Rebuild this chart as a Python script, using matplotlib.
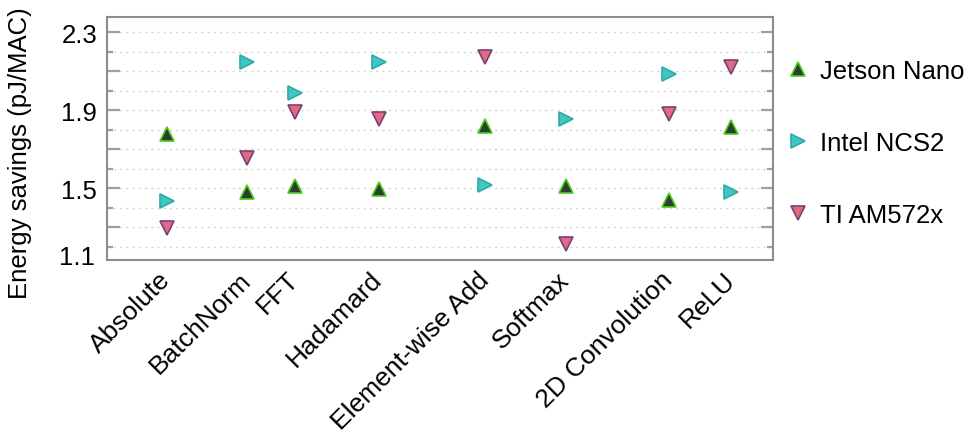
import matplotlib
matplotlib.use("Agg")
import matplotlib.pyplot as plt
from matplotlib.ticker import FixedLocator, FuncFormatter
import matplotlib.transforms as mtransforms

plt.rcParams['font.family'] = ['Liberation Sans', 'DejaVu Sans']

# ---- data ----
operations = ["Absolute", "BatchNorm", "FFT", "Hadamard", "Element-wise Add",
              "Softmax", "2D Convolution", "ReLU"]
op_x = [0.90, 2.10, 2.82, 4.08, 5.68, 6.89, 8.44, 9.38]
jetson_nano = [1.78, 1.48, 1.51, 1.495, 1.82, 1.513, 1.442, 1.813]
intel_ncs2 = [1.436, 2.146, 1.987, 2.146, 1.517, 1.855, 2.086, 1.479]
ti_am572x = [1.298, 1.654, 1.891, 1.855, 2.172, 1.214, 1.881, 2.12]
series_names = ["Jetson Nano", "Intel NCS2", "TI AM572x"]
y_labels_shown = [1.5, 1.9, 2.3]

fig = plt.figure(figsize=(9.73, 4.35), dpi=100)
ax = fig.add_axes([0.110, 0.400, 0.684, 0.559])

styles = [
    dict(marker='^', mfc='#2d3e30', mec='#4ccc1a'),
    dict(marker='>', mfc='#3ec8c0', mec='#2ea8a8'),
    dict(marker='v', mfc='#e06a80', mec='#7a3f7a'),
]
for vals, name, st in zip([jetson_nano, intel_ncs2, ti_am572x], series_names, styles):
    ax.plot(op_x, vals, linestyle='none', markersize=10.5, markeredgewidth=1.2,
            label=name, zorder=3, **st)

ax.set_xlim(0, 10)
ax.set_ylim(1.132, 2.378)

# y ticks
major = [1.3, 1.5, 1.7, 1.9, 2.1, 2.3]
minor = [1.2, 1.4, 1.6, 1.8, 2.0, 2.2]
ax.yaxis.set_major_locator(FixedLocator(major))
ax.yaxis.set_minor_locator(FixedLocator(minor))
ax.yaxis.set_major_formatter(FuncFormatter(
    lambda v, p: f"{v:.1f}" if any(abs(v - s) < 1e-6 for s in y_labels_shown) else ""))
ax.tick_params(axis='y', which='major', direction='in', length=9, width=1.6,
               color='#a0a0a0', left=True, right=True, labelsize=18.5, pad=7)
ax.tick_params(axis='y', which='minor', direction='in', length=4.5, width=1.6,
               color='#a0a0a0', left=True, right=True)
ax.grid(True, which='both', axis='y', linestyle=(0, (1.5, 3)), color='#d4d4d4', lw=1)

# extra bottom label as in the reference
trans = mtransforms.blended_transform_factory(ax.transAxes, ax.transData)
ax.text(-0.018, 1.148, "1.1", transform=trans, ha='right', va='center', fontsize=18.5)

# x ticks
ax.set_xticks(op_x)
ax.set_xticklabels(operations, rotation=45, ha='right', va='center',
                   rotation_mode='anchor', fontsize=19)
ax.tick_params(axis='x', length=0, pad=11)

for s in ax.spines.values():
    s.set_color('#8c8c8c')
    s.set_linewidth(1.5)

ax.set_ylabel("Energy savings (pJ/MAC)", fontsize=18.5)
ax.yaxis.set_label_coords(-0.112, 0.445)

leg = ax.legend(loc='upper left', bbox_to_anchor=(1.005, 0.868), frameon=False,
                fontsize=18.5, handlelength=0.9, handletextpad=0.4,
                labelspacing=1.87, borderaxespad=0)

fig.savefig("out.png", dpi=100)
